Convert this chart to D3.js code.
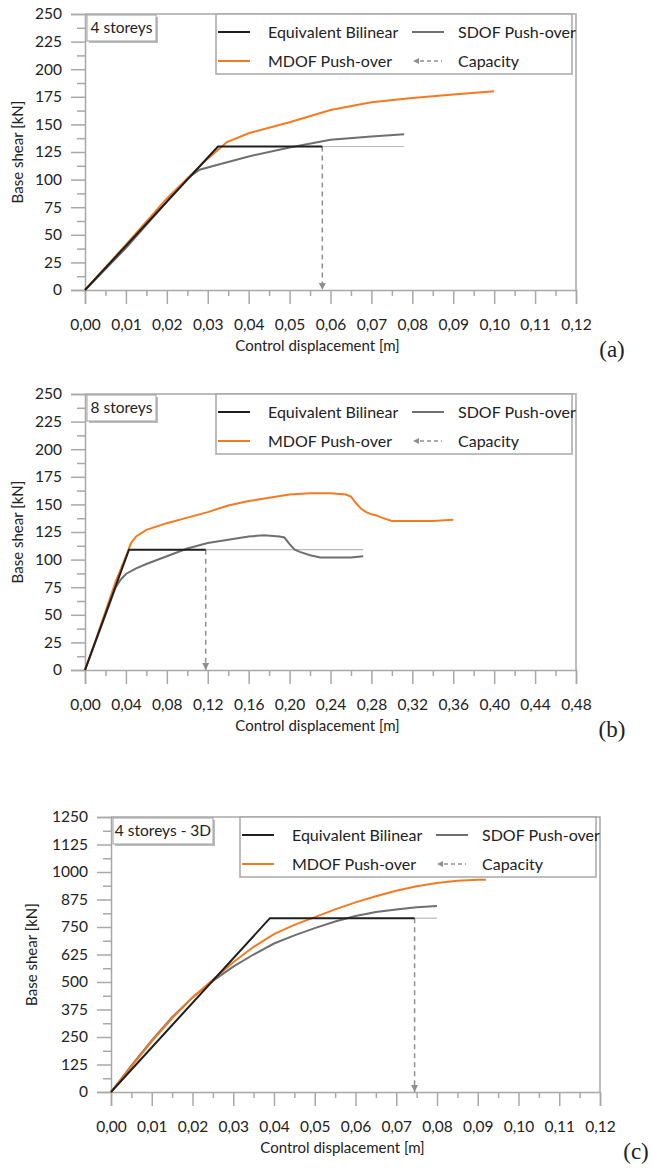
<!DOCTYPE html>
<html>
<head>
<meta charset="utf-8">
<script src="https://cdn.jsdelivr.net/npm/d3@7"></script>
<style>
  body { margin: 0; background: #fff; }
  text { font-family: Lato, 'Open Sans', sans-serif; fill: #222; }
</style>
</head>
<body>
<div id="chart"></div>
<script>
// Push-over curves: bilinear idealisation vs SDOF / MDOF, three buildings

// panel settings
const panelNames = ['(a)', '(b)', '(c)'];
const panelTitles = ['4 storeys', '8 storeys', '4 storeys - 3D'];
const xMaxes = [0.12, 0.48, 0.12];
const yMaxes = [250, 250, 1250];
const xSteps = [0.01, 0.04, 0.01];
const ySteps = [25, 25, 125];

// equivalent bilinear (origin -> yield -> capacity) and where its thin tail ends
const bilinX = [[0, 0.0325, 0.058], [0, 0.043, 0.118], [0, 0.039, 0.0745]];
const bilinY = [[0, 130, 130], [0, 109, 109], [0, 790, 790]];
const tailEnd = [0.078, 0.272, 0.080];

// SDOF push-over
const sdofX_a = [0, 0.01, 0.02, 0.025, 0.028, 0.032, 0.04, 0.05, 0.06, 0.07, 0.078];
const sdofY_a = [0, 38, 80, 101, 109, 113, 121, 129, 136, 139, 141];
const sdofX_b = [0, 0.01, 0.02, 0.03, 0.035, 0.04, 0.05, 0.06, 0.08, 0.1, 0.12, 0.14, 0.16, 0.175, 0.19, 0.195, 0.2, 0.205, 0.21, 0.22, 0.23, 0.25, 0.26, 0.272];
const sdofY_b = [0, 25, 50, 75, 82, 87, 92, 96, 103, 110, 115, 118, 121, 122, 121, 120, 114, 109, 107, 104, 102, 102, 102, 103];
const sdofX_c = [0, 0.005, 0.01, 0.015, 0.02, 0.025, 0.03, 0.035, 0.04, 0.045, 0.05, 0.055, 0.06, 0.065, 0.07, 0.075, 0.08];
const sdofY_c = [0, 120, 235, 340, 430, 505, 570, 625, 675, 712, 745, 775, 800, 818, 830, 840, 845];

// MDOF push-over
const mdofX_a = [0, 0.01, 0.02, 0.03, 0.0347, 0.04, 0.05, 0.06, 0.07, 0.08, 0.09, 0.1];
const mdofY_a = [0, 41, 83, 119, 134, 142, 152, 163, 170, 174, 177, 180];
const mdofX_b = [0, 0.01, 0.02, 0.03, 0.04, 0.045, 0.05, 0.06, 0.08, 0.1, 0.12, 0.14, 0.16, 0.18, 0.2, 0.22, 0.24, 0.255, 0.26, 0.265, 0.27, 0.275, 0.28, 0.285, 0.29, 0.3, 0.32, 0.34, 0.36];
const mdofY_b = [0, 26, 53, 80, 103, 115, 121, 127, 133, 138, 143, 149, 153, 156, 159, 160, 160, 159, 157, 151, 146, 143, 141, 140, 138, 135, 135, 135, 136];
const mdofX_c = [0, 0.005, 0.01, 0.015, 0.02, 0.025, 0.03, 0.035, 0.04, 0.045, 0.05, 0.055, 0.06, 0.065, 0.07, 0.075, 0.08, 0.085, 0.09, 0.092];
const mdofY_c = [0, 115, 230, 335, 430, 510, 590, 660, 718, 760, 795, 830, 862, 890, 915, 935, 950, 960, 965, 965];

const sdofX = [sdofX_a, sdofX_b, sdofX_c];
const sdofY = [sdofY_a, sdofY_b, sdofY_c];
const mdofX = [mdofX_a, mdofX_b, mdofX_c];
const mdofY = [mdofY_a, mdofY_b, mdofY_c];

const legendLabels = ['Equivalent Bilinear', 'SDOF Push-over', 'MDOF Push-over', 'Capacity'];

// layout of the three plot areas (pixels)
const boxes = [
    { left: 85, right: 576, top: 14, bottom: 290, yTitleX: 18 },
    { left: 85, right: 576, top: 394, bottom: 670, yTitleX: 18 },
    { left: 111, right: 600, top: 817, bottom: 1092, yTitleX: 32 }
];

const colors = { bilin: '#1e1e1e', sdof: '#6f6f6f', mdof: '#f47a20', cap: '#8f8f8f', axis: '#a8a8a8', tail: '#b8b8b8' };

const svg = d3.select('#chart').append('svg')
    .attr('width', 653)
    .attr('height', 1168);

const fmt = v => d3.format('.2f')(v).replace('.', ',');

boxes.forEach((b, i) => {
    const g = svg.append('g');
    const x = d3.scaleLinear().domain([0, xMaxes[i]]).range([b.left, b.right]);
    const y = d3.scaleLinear().domain([0, yMaxes[i]]).range([b.bottom, b.top]);

    const nX = Math.round(xMaxes[i] / xSteps[i]);
    const nY = Math.round(yMaxes[i] / ySteps[i]);
    const xMajor = d3.range(nX + 1).map(k => k * xSteps[i]);
    const xMinor = d3.range(nX).map(k => (k + 0.5) * xSteps[i]);
    const yMajor = d3.range(nY + 1).map(k => k * ySteps[i]);
    const yMinor = d3.range(nY).map(k => (k + 0.5) * ySteps[i]);

    // frame (top + right)
    g.append('path')
        .attr('d', `M${b.left},${b.top}H${b.right}V${b.bottom}`)
        .attr('fill', 'none')
        .attr('stroke', colors.axis)
        .attr('stroke-width', 1.5);

    // axes
    g.append('g')
        .attr('transform', `translate(${b.left},0)`)
        .call(d3.axisLeft(y).tickValues(yMajor).tickSize(14).tickPadding(9).tickFormat(d3.format('d')));
    g.append('g')
        .attr('transform', `translate(${b.left},0)`)
        .call(d3.axisLeft(y).tickValues(yMinor).tickSize(8).tickFormat(''))
        .select('.domain').remove();
    g.append('g')
        .attr('transform', `translate(0,${b.bottom})`)
        .call(d3.axisBottom(x).tickValues(xMajor).tickSize(14).tickPadding(15).tickFormat(fmt));
    g.append('g')
        .attr('transform', `translate(0,${b.bottom})`)
        .call(d3.axisBottom(x).tickValues(xMinor).tickSize(6).tickFormat(''))
        .select('.domain').remove();

    g.selectAll('.domain, .tick line')
        .attr('stroke', colors.axis)
        .attr('stroke-width', 1.5);
    g.selectAll('.tick text')
        .style('font-family', 'Lato, sans-serif')
        .style('font-size', '15.5px')
        .attr('fill', '#222');

    // axis titles
    g.append('text')
        .attr('x', (b.left + b.right) / 2 - 13)
        .attr('y', b.bottom + 61)
        .attr('text-anchor', 'middle')
        .style('font-size', '15px')
        .text('Control displacement [m]');
    g.append('text')
        .attr('transform', `translate(${b.yTitleX + 5},${(b.top + b.bottom) / 2}) rotate(-90)`)
        .attr('text-anchor', 'middle')
        .style('font-size', '15px')
        .text('Base shear [kN]');

    // panel letter
    g.append('text')
        .attr('x', b.right + 36)
        .attr('y', b.bottom + 67)
        .attr('text-anchor', 'middle')
        .style('font-family', "'Liberation Serif', serif")
        .style('font-size', '23px')
        .text(panelNames[i]);

    const line = d3.line().x(d => x(d[0])).y(d => y(d[1]));

    // thin tail of the bilinear plateau
    const capX = bilinX[i][2];
    const capY = bilinY[i][2];
    g.append('path')
        .attr('d', line([[capX, capY], [tailEnd[i], capY]]))
        .attr('fill', 'none')
        .attr('stroke', colors.tail)
        .attr('stroke-width', 1.2);

    // capacity: dashed arrow down to the axis
    g.append('path')
        .attr('d', line([[capX, capY], [capX, 0]]))
        .attr('fill', 'none')
        .attr('stroke', colors.cap)
        .attr('stroke-width', 1.5)
        .attr('stroke-dasharray', '5,4');
    g.append('path')
        .attr('d', `M${x(capX) - 3.5},${y(0) - 7}L${x(capX) + 3.5},${y(0) - 7}L${x(capX)},${y(0)}Z`)
        .attr('fill', colors.cap);

    // push-over curves
    g.append('path')
        .attr('d', line(d3.zip(sdofX[i], sdofY[i])))
        .attr('fill', 'none')
        .attr('stroke', colors.sdof)
        .attr('stroke-width', 2);
    g.append('path')
        .attr('d', line(d3.zip(mdofX[i], mdofY[i])))
        .attr('fill', 'none')
        .attr('stroke', colors.mdof)
        .attr('stroke-width', 2);
    g.append('path')
        .attr('d', line(d3.zip(bilinX[i], bilinY[i])))
        .attr('fill', 'none')
        .attr('stroke', colors.bilin)
        .attr('stroke-width', 2);

    // storey label box
    const lw = i === 2 ? 100 : 69;
    g.append('rect')
        .attr('x', b.left + 4).attr('y', b.top + 3)
        .attr('width', lw).attr('height', 26)
        .attr('fill', '#bdbdbd');
    g.append('rect')
        .attr('x', b.left + 2).attr('y', b.top + 1)
        .attr('width', lw).attr('height', 26)
        .attr('fill', '#fff')
        .attr('stroke', '#a0a0a0')
        .attr('stroke-width', 1);
    g.append('text')
        .attr('x', b.left + 2 + lw / 2)
        .attr('y', b.top + 14)
        .attr('dy', '0.35em')
        .attr('text-anchor', 'middle')
        .style('font-size', '15.5px')
        .text(panelTitles[i]);

    // legend
    const L = b.right - 360;
    const lg = g.append('g').attr('transform', `translate(${L},${b.top})`);
    lg.append('rect')
        .attr('x', 0).attr('y', 0)
        .attr('width', 356).attr('height', 60)
        .attr('fill', '#fff')
        .attr('stroke', '#a8a8a8')
        .attr('stroke-width', 1.5);
    const items = [
        { col: 0, row: 0, color: colors.bilin, label: legendLabels[0] },
        { col: 1, row: 0, color: colors.sdof, label: legendLabels[1] },
        { col: 0, row: 1, color: colors.mdof, label: legendLabels[2] },
        { col: 1, row: 1, color: colors.cap, label: legendLabels[3], dashed: true }
    ];
    items.forEach(it => {
        const x0 = it.col ? 196 : 2;
        const yy = it.row ? 47 : 18;
        if (it.dashed) {
            lg.append('line')
                .attr('x1', x0 + 8).attr('x2', x0 + 30)
                .attr('y1', yy).attr('y2', yy)
                .attr('stroke', it.color).attr('stroke-width', 1.5)
                .attr('stroke-dasharray', '4,3');
            lg.append('path')
                .attr('d', `M${x0 + 1},${yy}L${x0 + 7},${yy - 3}L${x0 + 7},${yy + 3}Z`)
                .attr('fill', it.color);
        } else {
            lg.append('line')
                .attr('x1', x0).attr('x2', x0 + 32)
                .attr('y1', yy).attr('y2', yy)
                .attr('stroke', it.color).attr('stroke-width', 2);
        }
        lg.append('text')
            .attr('x', x0 + (it.col ? 46 : 50))
            .attr('y', yy)
            .attr('dy', '0.35em')
            .style('font-size', '16px')
            .text(it.label);
    });
});
</script>
</body>
</html>
